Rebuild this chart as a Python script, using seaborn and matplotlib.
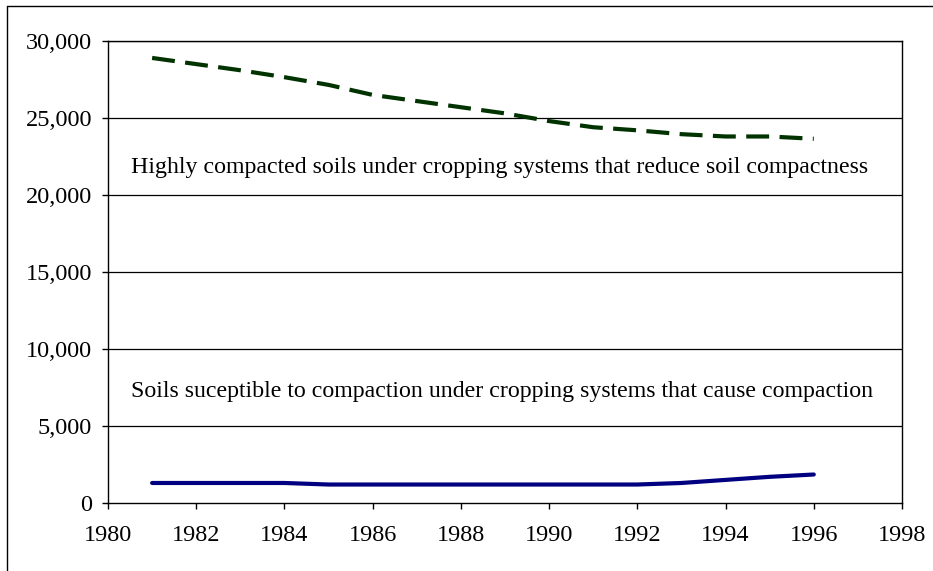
import matplotlib
matplotlib.use("Agg")
import matplotlib.pyplot as plt
from matplotlib.lines import Line2D
from matplotlib.ticker import FuncFormatter
import seaborn as sns
import pandas as pd

years = [1981, 1982, 1983, 1984, 1985, 1986, 1987, 1988, 1989, 1990,
         1991, 1992, 1993, 1994, 1995, 1996]
highly_compacted = [28900, 28500, 28100, 27650, 27150, 26500, 26100, 25700,
                    25300, 24800, 24400, 24200, 23950, 23800, 23800, 23650]
susceptible = [1300, 1300, 1300, 1300, 1200, 1200, 1200, 1200,
               1200, 1200, 1200, 1200, 1300, 1500, 1700, 1850]
label_high = "Highly compacted soils under cropping systems that reduce soil compactness"
label_susc = "Soils suceptible to compaction under cropping systems that cause compaction"
x_ticks = [1980, 1982, 1984, 1986, 1988, 1990, 1992, 1994, 1996, 1998]
y_ticks = [0, 5000, 10000, 15000, 20000, 25000, 30000]

sns.set_style("white")
plt.rcParams['font.family'] = ['Liberation Serif', 'DejaVu Serif']
plt.rcParams['text.color'] = 'black'
plt.rcParams['xtick.color'] = 'black'
plt.rcParams['ytick.color'] = 'black'

df_high = pd.DataFrame({"year": years, "value": highly_compacted})
df_susc = pd.DataFrame({"year": years, "value": susceptible})

fig = plt.figure(figsize=(9.33, 5.71), dpi=100)
ax = fig.add_axes([108/933, 1-503/571, (902-108)/933, (503-41)/571])

ax.set_axisbelow(True)
for yv in y_ticks[1:]:
    ax.axhline(yv, color="black", lw=0.9, zorder=0)

sns.lineplot(data=df_high, x="year", y="value", ax=ax, color="#003300",
             lw=3.0, linestyle=(0, (5.5, 2.5)), zorder=3)
sns.lineplot(data=df_susc, x="year", y="value", ax=ax, color="#000080",
             lw=3.0, zorder=3)

ax.set_xlim(x_ticks[0], x_ticks[-1])
ax.set_ylim(y_ticks[0], y_ticks[-1])
ax.set_xticks(x_ticks)
ax.set_yticks(y_ticks)
ax.yaxis.set_major_formatter(FuncFormatter(lambda v, p: f"{int(v):,}"))
ax.set_xlabel("")
ax.set_ylabel("")
ax.tick_params(axis="both", direction="out", length=4.5, width=1, color="black",
               labelsize=17.5, bottom=True, left=True, labelcolor="black")
ax.tick_params(axis="y", pad=7)
ax.tick_params(axis="x", pad=11)
for s in ax.spines.values():
    s.set_visible(True)
    s.set_color("black")
    s.set_linewidth(1.0)

ax.text(131/933, 1-167/571, label_high, transform=fig.transFigure,
        fontsize=17.2, va="center", ha="left", color="black")
ax.text(131/933, 1-392/571, label_susc, transform=fig.transFigure,
        fontsize=17.2, va="center", ha="left", color="black")

# outer frame (cut off at right and bottom)
fig.add_artist(Line2D([7/933, 1.0], [1-5.5/571, 1-5.5/571], transform=fig.transFigure,
                      color="black", lw=1.0))
fig.add_artist(Line2D([7/933, 7/933], [1-5.5/571, 0.0], transform=fig.transFigure,
                      color="black", lw=1.0))

fig.savefig("out.png", dpi=100)
